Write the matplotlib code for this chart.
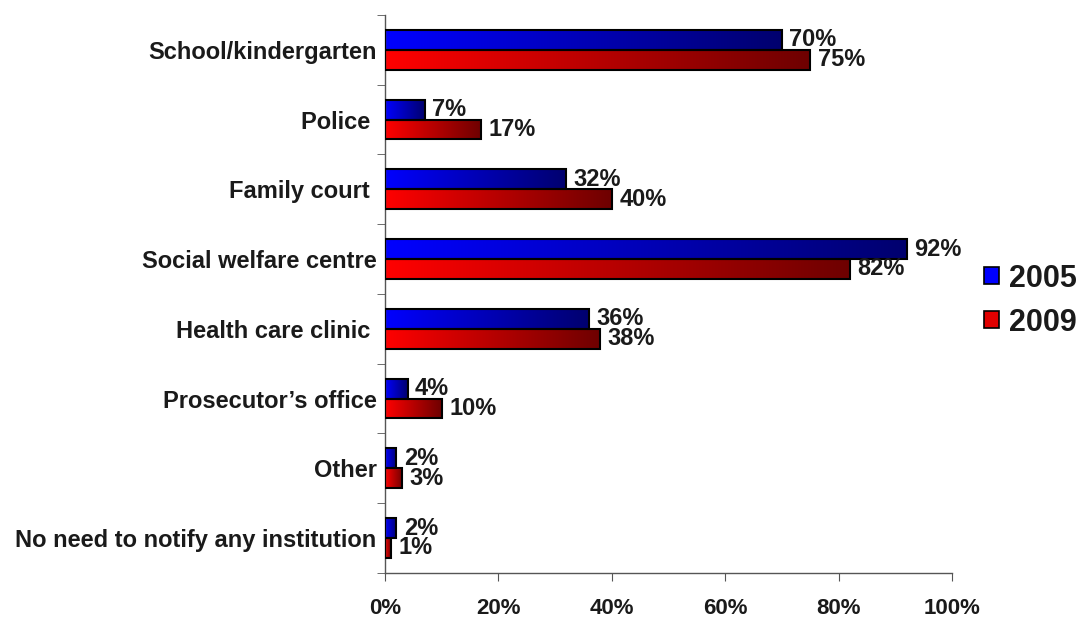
import numpy as np
import matplotlib
matplotlib.use("Agg")
import matplotlib.pyplot as plt
from matplotlib.colors import LinearSegmentedColormap
from matplotlib.patches import Rectangle

plt.rcParams['font.family'] = ['Liberation Sans', 'DejaVu Sans']
plt.rcParams['font.weight'] = 'bold'

categories = ["School/kindergarten", "Police ", "Family court ", "Social welfare centre",
              "Health care clinic ", "Prosecutor\u2019s office", "Other",
              "No need to notify any institution"]
vals_2005 = [70, 7, 32, 92, 36, 4, 2, 2]
vals_2009 = [75, 17, 40, 82, 38, 10, 3, 1]
series_names = ["2005", "2009"]
xticks = [0, 20, 40, 60, 80, 100]

text_col = '#1a1a1a'
blue_cmap = LinearSegmentedColormap.from_list('b', ['#0000ff', '#00006e'])
red_cmap = LinearSegmentedColormap.from_list('r', ['#ff0000', '#6e0000'])
grad = np.linspace(0, 1, 256).reshape(1, -1)

fig = plt.figure(figsize=(10.8, 6.2), dpi=100)
ax = fig.add_axes([0.3565, 0.076, 0.525, 0.9])

n = len(categories)
h = 0.286
for i in range(n):
    yc = n - 1 - i
    for v, cmap, y0 in ((vals_2005[i], blue_cmap, yc), (vals_2009[i], red_cmap, yc - h)):
        ax.imshow(grad, cmap=cmap, extent=[0, v, y0, y0 + h], aspect='auto',
                  interpolation='bilinear', zorder=2)
        ax.add_patch(Rectangle((0, y0), v, h, facecolor='none', edgecolor='black',
                               linewidth=1.5, zorder=3))
        ax.text(v + 1.3, y0 + h / 2, f"{v}%", ha='left', va='center',
                fontsize=17, fontweight='bold', color=text_col, zorder=4)

ax.set_xlim(0, 100)
ax.set_ylim(-0.5, n - 0.5)
ax.set_xticks(xticks)
ax.set_xticklabels([f"{t}%" for t in xticks], fontsize=16, fontweight='bold', color=text_col)
ax.tick_params(axis='x', direction='out', length=6, pad=12, color='#555555')

ax.set_yticks([n - 1 - i for i in range(n)])
ax.set_yticklabels(categories, fontsize=17, fontweight='bold', color=text_col)
ax.tick_params(axis='y', which='major', length=0, pad=6)
ax.set_yticks(np.arange(-0.5, n, 1.0), minor=True)
ax.tick_params(axis='y', which='minor', direction='out', length=6, color='#555555')

for s in ['top', 'right']:
    ax.spines[s].set_visible(False)
for s in ['left', 'bottom']:
    ax.spines[s].set_color('#555555')
    ax.spines[s].set_linewidth(1.0)

handles = [Rectangle((0, 0), 1, 1, facecolor='#0000ff', edgecolor='black', linewidth=1.2),
           Rectangle((0, 0), 1, 1, facecolor='#e00000', edgecolor='black', linewidth=1.2)]
leg = fig.legend(handles, series_names, loc='center left', bbox_to_anchor=(0.911, 0.515),
                 frameon=False, handlelength=0.48, handleheight=0.48, handletextpad=0.35,
                 labelspacing=0.45, borderpad=0, borderaxespad=0,
                 prop={'size': 22, 'weight': 'bold'})
for t in leg.get_texts():
    t.set_color(text_col)

fig.savefig("out.png", dpi=100)
